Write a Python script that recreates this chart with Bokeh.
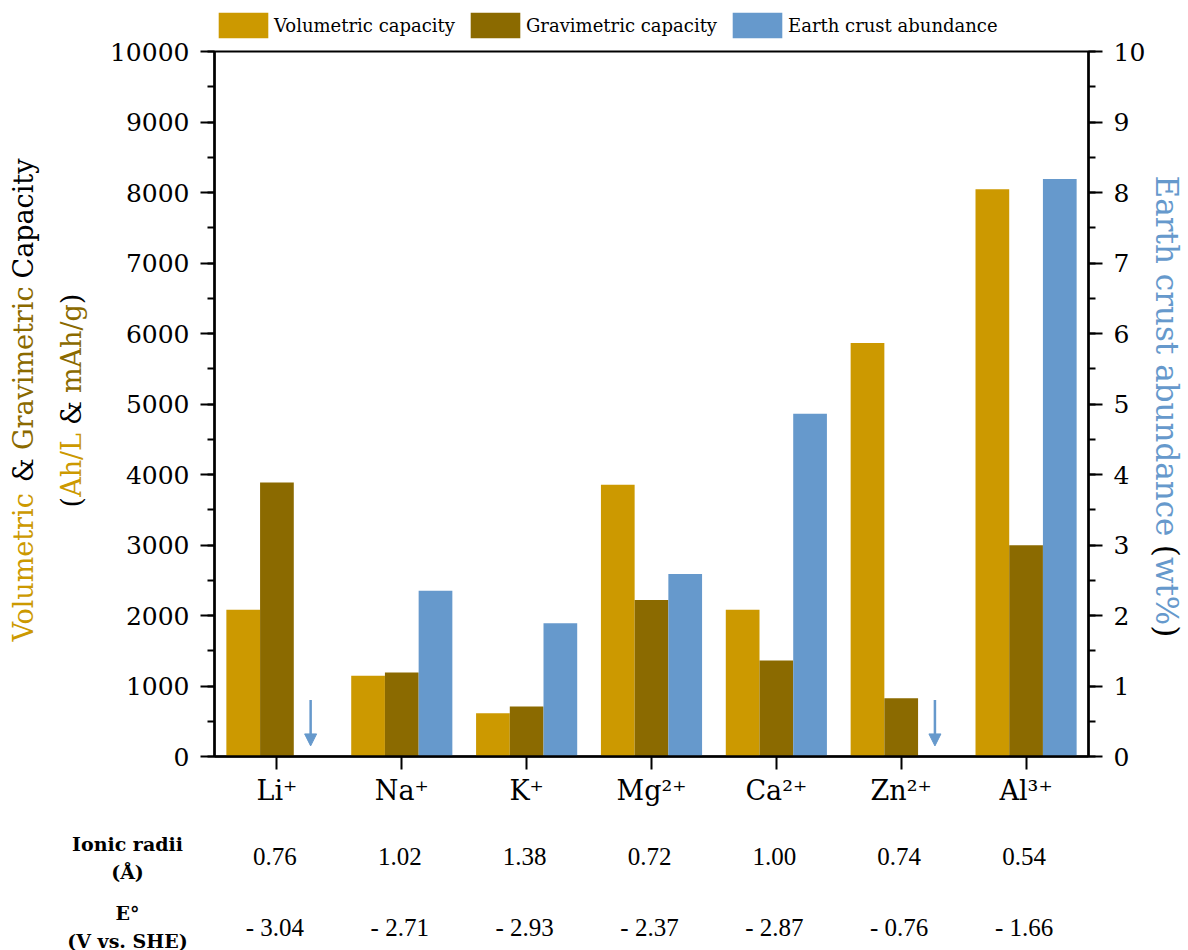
import numpy as np
from bokeh.plotting import figure
from bokeh.layouts import column, row
from bokeh.models import (Range1d, LinearAxis, SingleIntervalTicker, FixedTicker, Label, LabelSet,
                          ColumnDataSource, Legend, LegendItem, Arrow, NormalHead)
from bokeh.transform import dodge
from bokeh.embed import file_html
from bokeh.resources import INLINE

# ---------------- data ----------------
ions = ["Li⁺", "Na⁺", "K⁺", "Mg²⁺", "Ca²⁺", "Zn²⁺", "Al³⁺"]
volumetric = [2082, 1147, 613, 3853, 2082, 5864, 8045]      # Ah/L
gravimetric = [3887, 1190, 708, 2219, 1360, 826, 2998]      # mAh/g
abundance = [0.002, 2.35, 1.89, 2.59, 4.86, 0.0078, 8.19]   # wt%
ionic_radii = ["0.76", "1.02", "1.38", "0.72", "1.00", "0.74", "0.54"]
e_standard = ["- 3.04", "- 2.71", "- 2.93", "- 2.37", "- 2.87", "- 0.76", "- 1.66"]
series_names = ["Volumetric capacity", "Gravimetric capacity", "Earth crust abundance"]

GOLD = "#CC9900"
BROWN = "#8B6A00"
BLUE = "#6699CC"
FONT = "DejaVu Serif"

# ---------------- layout constants (pixels) ----------------
TOTAL_W, TOTAL_H = 1188, 950
LEG_H = 41                        # legend strip on top
LEFT_W = 106                      # left title strip
BL, BR, BT, BB = 106, 60, 10, 60  # main figure borders
FW, FH = 874, 705                 # plot frame
MAIN_W = BL + FW + BR
MAIN_H = BT + FH + BB
RIGHT_W = TOTAL_W - LEFT_W - MAIN_W
TABLE_H = TOTAL_H - LEG_H - MAIN_H

x = list(range(1, len(ions) + 1))
src = ColumnDataSource(dict(x=x, vol=volumetric, grav=gravimetric, ab=abundance,
                            radii=ionic_radii, e0=e_standard))
XR = (0.5, len(ions) + 0.5)

def blank(w, h, xr=(0, 1), yr=(0, 1)):
    f = figure(width=w, height=h, x_range=Range1d(*xr), y_range=Range1d(*yr),
               output_backend="svg", toolbar_location=None,
               x_axis_location=None, y_axis_location=None, min_border=0)
    f.outline_line_color = None
    f.xgrid.visible = False
    f.ygrid.visible = False
    return f

# ---------------- main plot ----------------
p = figure(frame_width=FW, frame_height=FH, x_range=Range1d(*XR), y_range=Range1d(0, 10000),
           output_backend="svg", toolbar_location=None,
           min_border_left=BL, min_border_right=BR, min_border_top=BT, min_border_bottom=BB)
p.extra_y_ranges = {"ab": Range1d(0, 10)}
p.xgrid.visible = False
p.ygrid.visible = False
p.outline_line_color = "black"
p.outline_line_width = 2

BW = 0.27
p.vbar(x=dodge("x", -BW, range=p.x_range), top="vol", width=BW, source=src,
       fill_color=GOLD, line_color=None)
p.vbar(x=dodge("x", 0, range=p.x_range), top="grav", width=BW, source=src,
       fill_color=BROWN, line_color=None)
p.vbar(x=dodge("x", BW, range=p.x_range), top="ab", width=BW, source=src,
       fill_color=BLUE, line_color=None, y_range_name="ab")

# arrows for abundances far below the visible scale
low = [xi + BW for xi, a in zip(x, abundance) if a < 0.1]
asrc = ColumnDataSource(dict(xs=low, y0=[0.8] * len(low), y1=[0.15] * len(low)))
p.add_layout(Arrow(end=NormalHead(size=12, fill_color=BLUE, line_color=BLUE),
                   x_start="xs", y_start="y0", x_end="xs", y_end="y1", source=asrc,
                   line_color=BLUE, line_width=2.5, y_range_name="ab"))

def style_axis(ax, size="25px"):
    ax.axis_line_width = 2.5
    ax.major_tick_line_width = 2
    ax.minor_tick_line_width = 2
    ax.major_tick_in = 0
    ax.major_tick_out = 14
    ax.minor_tick_in = 0
    ax.minor_tick_out = 7
    ax.major_label_text_font = FONT
    ax.major_label_text_font_size = size
    ax.major_label_text_color = "black"
    ax.major_label_standoff = 11

yl = p.yaxis[0]
yl.ticker = SingleIntervalTicker(interval=1000, num_minor_ticks=2)
style_axis(yl)

yr = LinearAxis(y_range_name="ab", ticker=SingleIntervalTicker(interval=1, num_minor_ticks=2))
style_axis(yr)
p.add_layout(yr, "right")

xa = p.xaxis[0]
xa.ticker = FixedTicker(ticks=x)
xa.major_label_overrides = {xi: name for xi, name in zip(x, ions)}
style_axis(xa, "27px")
xa.minor_tick_line_color = None
xa.major_tick_out = 13
xa.major_label_standoff = 5

# ---------------- multi-coloured rotated axis titles ----------------
ADV = {" ": .318, "(": .39, ")": .39, "&": .872, "/": .337, "%": .95, "A": .722, "C": .734,
       "E": .683, "G": .775, "L": .636, "V": .722, "a": .596, "b": .640, "c": .560, "d": .640,
       "e": .592, "g": .640, "h": .644, "i": .320, "l": .320, "m": .948, "n": .644, "o": .602,
       "p": .640, "r": .478, "s": .513, "t": .402, "u": .644, "v": .565, "w": .856, "y": .565}

def tw(s, size):
    return sum(ADV.get(c, .6) for c in s) * size

def rotated_title(f, segments, xpos, center, size, up=True):
    # segments: (text, colour, spaces after); spaces are advanced, not drawn
    adv = [tw(s, size) + n * ADV[" "] * size for s, _, n in segments]
    total = sum(adv)
    pos = center - total / 2 if up else center + total / 2
    for (s, col, n), a in zip(segments, adv):
        f.add_layout(Label(x=xpos, y=pos, x_units="screen", y_units="screen", text=s,
                           angle=(np.pi / 2 if up else -np.pi / 2), text_align="left",
                           text_baseline="alphabetic", text_font=FONT,
                           text_font_size=f"{size}px", text_color=col))
        pos += a if up else -a

left = blank(LEFT_W, MAIN_H)
rotated_title(left, [("Volumetric", GOLD, 1), ("&", "black", 1), ("Gravimetric", BROWN, 1),
                     ("Capacity", "black", 0)], 23, 356, 27)
rotated_title(left, [("(", "black", 0), ("Ah/L", GOLD, 1), ("&", "black", 1), ("mAh/g", BROWN, 0),
                     (")", "black", 0)], 71, 356, 27)

right = blank(RIGHT_W, MAIN_H)
rotated_title(right, [("Earth crust abundance", BLUE, 1), ("(", "black", 0), ("wt%", BLUE, 0),
                      (")", "black", 0)], 18, 350, 31, up=False)

# ---------------- legend strip ----------------
top = blank(TOTAL_W, LEG_H)
items = []
for name, col in zip(series_names, [GOLD, BROWN, BLUE]):
    # zero-height placeholder glyph: only its legend swatch is visible
    r = top.vbar(x=[0.5], bottom=[0], top=[0], width=0.01, fill_color=col, line_color=None)
    items.append(LegendItem(label=name, renderers=[r]))
top.add_layout(Legend(items=items, orientation="horizontal", location=(BL + LEFT_W, 0),
                      glyph_width=62, glyph_height=32, label_standoff=0, spacing=9,
                      padding=0, margin=0, border_line_alpha=0, background_fill_alpha=0,
                      label_text_font=FONT, label_text_font_size="18px",
                      label_text_color="black"))

# ---------------- property table below the axis ----------------
ppu = FW / (XR[1] - XR[0])
x0 = LEFT_W + BL
tab = blank(TOTAL_W, TABLE_H, xr=(XR[0] - x0 / ppu, XR[1] + (TOTAL_W - x0 - FW) / ppu))
tbl = dict(text_align="center", text_baseline="middle", text_font=FONT, text_color="black")
tab.add_layout(LabelSet(x="x", y=TOTAL_H - 856, y_units="screen", text="radii", source=src,
                        text_font_size="25px", **tbl))
tab.add_layout(LabelSet(x="x", y=TOTAL_H - 927, y_units="screen", text="e0", source=src,
                        text_font_size="25px", **tbl))
for txt, yy in [("Ionic radii", 843), ("(Å)", 871), ("E°", 912), ("(V vs. SHE)", 940)]:
    tab.add_layout(Label(x=127, y=TOTAL_H - yy, x_units="screen", y_units="screen", text=txt,
                         text_font_style="bold", text_font_size="19px", **tbl))

layout = column(top, row(left, p, right, spacing=0), tab, spacing=0)
open("out.html", "w").write(file_html(layout, INLINE))
